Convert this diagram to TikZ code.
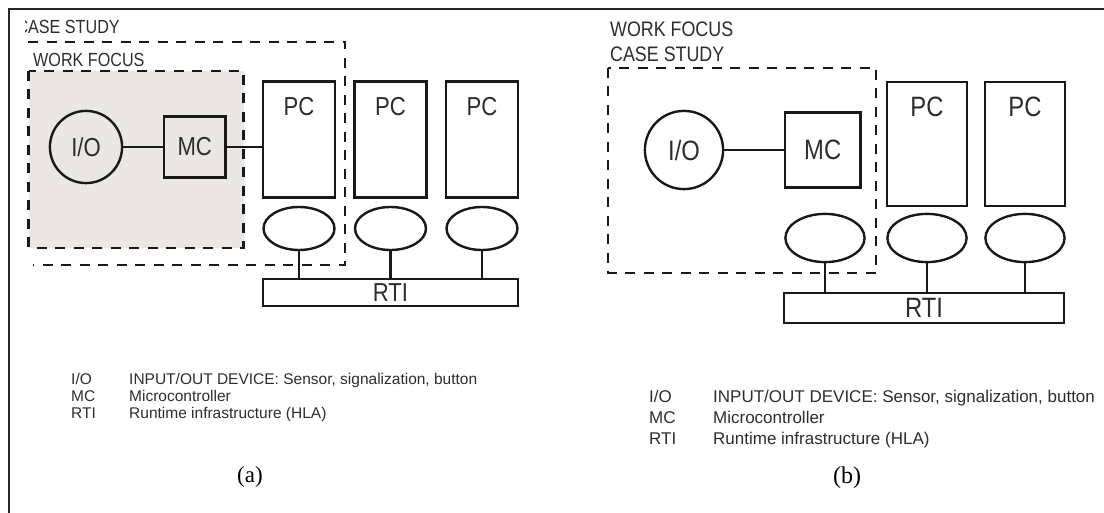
\documentclass[tikz,border=0pt]{standalone}
\usepackage{fontspec}
\newfontfamily\diagfont{Liberation Sans}[FakeStretch=0.85]
\newfontfamily\legfont{Liberation Sans}
\newfontfamily\subfont{Liberation Serif}
\usetikzlibrary{positioning, shapes.geometric}

\definecolor{linegray}{RGB}{25,25,25}
\definecolor{textgray}{RGB}{45,45,45}
\definecolor{framegray}{RGB}{40,40,40}
\definecolor{focusgray}{RGB}{236,231,228}

\newcommand\labela{\diagfont\fontsize{26}{30}\selectfont}
\newcommand\labelb{\diagfont\fontsize{28}{32}\selectfont}
\newcommand\zonea{\diagfont\fontsize{19}{22}\selectfont}
\newcommand\zoneb{\diagfont\fontsize{21}{24}\selectfont}

\begin{document}
\begin{tikzpicture}[
	x=1pt, y=-1pt,
	% Define styles
	frame/.style={draw=framegray, line width=2pt},
	zone/.style={draw=linegray, line width=2.8pt, dash pattern=on 10pt off 8.5pt},
	zonetext/.style={inner sep=0pt, anchor=base west, text=textgray},
	iobox/.style={circle, draw=linegray, line width=2.4pt, outer sep=0pt, inner sep=0pt, text=textgray},
	mcbox/.style={rectangle, draw=linegray, line width=2.4pt, outer sep=0pt, inner sep=0pt, text=textgray},
	pcbox/.style={rectangle, draw=linegray, line width=2.4pt, outer sep=0pt},
	lanbox/.style={ellipse, draw=linegray, line width=2.4pt, outer sep=0pt, inner sep=0pt},
	rtibox/.style={rectangle, draw=linegray, line width=2.4pt, outer sep=0pt, inner sep=0pt, text=textgray},
	pctext/.style={inner sep=0pt, anchor=north, text=textgray},
	wire/.style={draw=linegray, line width=2.4pt},
	legend/.style={inner sep=0pt, anchor=base west, text=textgray},
	caption/.style={inner sep=0pt, anchor=base}
	]
	\useasboundingbox (0,0) rectangle (1104,513);
	
	% 0. Frame
	\coordinate (fbl) at (9,513);
	\coordinate (ftr) at (1104,9);
	\draw[frame] (fbl) |- (ftr);
	
	% 1. Zones of (a)
	\draw[zone, fill=focusgray] (28.6,71) rectangle (243.6,248);
	\draw[zone] (28,42) -- (345,42) -- (345,265) -- (33,265);
	\begin{scope}
		\clip (25,10) rectangle (200,40);
		\node[zonetext, font=\zonea] (casea) at (16.3,34) {CASE STUDY};
	\end{scope}
	\node[zonetext, font=\zonea] (worka) at (33,67) {WORK FOCUS};
	
	% 2. Devices of (a)
	\node[iobox, minimum size=72.2pt, font=\labela] (ioa) at (86,147) {I/O};
	\node[mcbox, minimum size=61.2pt, font=\labela, right=42pt of ioa] (mca) {MC};
	\node[pcbox, minimum width=72pt, minimum height=116pt] (pca1) at (299,139.5) {};
	\node[pcbox, minimum width=72pt, minimum height=116pt, right=19.5pt of pca1] (pca2) {};
	\node[pcbox, minimum width=72pt, minimum height=116pt, right=19.5pt of pca2] (pca3) {};
	\node[pctext, font=\labela] (pca1txt) at ([yshift=-15.5pt]pca1.north) {PC};
	\node[pctext, font=\labela] (pca2txt) at ([yshift=-15.5pt]pca2.north) {PC};
	\node[pctext, font=\labela] (pca3txt) at ([yshift=-15.5pt]pca3.north) {PC};
	
	\node[lanbox, minimum width=71pt, minimum height=43pt, below=9.5pt of pca1] (lana1) {};
	\node[lanbox, minimum width=71pt, minimum height=43pt, below=9.5pt of pca2] (lana2) {};
	\node[lanbox, minimum width=71pt, minimum height=43pt, below=9.5pt of pca3] (lana3) {};
	\node[rtibox, minimum width=255pt, minimum height=27pt, font=\labela, below=29pt of lana2] (rtia) {RTI};
	
	% Links of (a)
	\draw[wire] (ioa) -- (mca);
	\draw[wire] (mca.east) -- (mca.east -| pca1.west);
	\draw[wire] (lana1.south) -- (lana1.south |- rtia.north);
	\draw[wire] (lana2.south) -- (lana2.south |- rtia.north);
	\draw[wire] (lana3.south) -- (lana3.south |- rtia.north);
	
	% 3. Legend of (a)
	\node[legend, font=\legfont\fontsize{15.5}{17.5}\selectfont] (keya) at (71,384) {%
		\begin{tabular}[t]{@{}p{58pt}@{}l@{}}
			I/O & INPUT/OUT DEVICE: Sensor, signalization, button\\
			MC & Microcontroller\\
			RTI & Runtime infrastructure (HLA)
		\end{tabular}};
	\node[caption, font=\subfont\fontsize{23}{27}\selectfont] (capa) at (250,482) {(a)};
	
	% 4. Zone of (b)
	\draw[zone] (608,68) rectangle (876,273);
	\node[zonetext, font=\zoneb] (workb) at (610,37) {WORK FOCUS};
	\node[zonetext, font=\zoneb] (caseb) at (610,62) {CASE STUDY};
	
	% 5. Devices of (b)
	\node[iobox, minimum size=78.2pt, font=\labelb] (iob) at (684,150) {I/O};
	\node[mcbox, minimum size=75.2pt, font=\labelb, right=62pt of iob] (mcb) {MC};
	\node[pcbox, minimum width=80.2pt, minimum height=124.2pt] (pcb1) at (927,144) {};
	\node[pcbox, minimum width=80.2pt, minimum height=124.2pt, right=17.8pt of pcb1] (pcb2) {};
	\node[pctext, font=\labelb] (pcb1txt) at ([yshift=-15pt]pcb1.north) {PC};
	\node[pctext, font=\labelb] (pcb2txt) at ([yshift=-15pt]pcb2.north) {PC};
	
	\node[lanbox, minimum width=79.2pt, minimum height=48.2pt] (lanb1) at (825,238) {};
	\node[lanbox, minimum width=79.2pt, minimum height=48.2pt, below=7.8pt of pcb1] (lanb2) {};
	\node[lanbox, minimum width=79.2pt, minimum height=48.2pt, below=7.8pt of pcb2] (lanb3) {};
	\node[rtibox, minimum width=280pt, minimum height=30pt, font=\labelb] (rtib) at (924,308) {RTI};
	
	% Links of (b)
	\draw[wire] (iob) -- (mcb);
	\draw[wire] (lanb1.south) -- (lanb1.south |- rtib.north);
	\draw[wire] (lanb2.south) -- (lanb2.south |- rtib.north);
	\draw[wire] (lanb3.south) -- (lanb3.south |- rtib.north);
	
	% 6. Legend of (b)
	\node[legend, font=\legfont\fontsize{17}{21.5}\selectfont] (keyb) at (649,402) {%
		\begin{tabular}[t]{@{}p{64pt}@{}l@{}}
			I/O & INPUT/OUT DEVICE: Sensor, signalization, button\\
			MC & Microcontroller\\
			RTI & Runtime infrastructure (HLA)
		\end{tabular}};
	\node[caption, font=\subfont\fontsize{24}{28}\selectfont] (capb) at (847,483) {(b)};
\end{tikzpicture}
\end{document}
